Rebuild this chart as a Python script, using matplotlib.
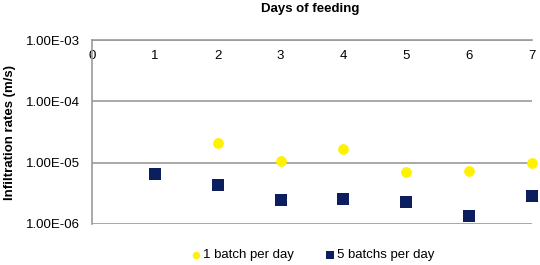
import matplotlib
matplotlib.use("Agg")
import matplotlib.pyplot as plt
from matplotlib.ticker import FixedLocator, NullLocator

plt.rcParams["font.family"] = ["Liberation Sans", "DejaVu Sans"]

# ── Data ─────────────────────────────────────────────────────────────────────
days = [1, 2, 3, 4, 5, 6, 7]
one_batch = [None, 2.1e-5, 1.06e-5, 1.65e-5, 6.95e-6, 7.3e-6, 1.0e-5]
five_batch = [6.45e-6, 4.4e-6, 2.45e-6, 2.6e-6, 2.3e-6, 1.33e-6, 2.85e-6]
x_ticks = [0, 1, 2, 3, 4, 5, 6, 7]
y_ticks = [1e-6, 1e-5, 1e-4, 1e-3]
y_labels = ["1.00E-06", "1.00E-05", "1.00E-04", "1.00E-03"]

YELLOW = "#FFF200"
NAVY = "#0B1F5E"
GRID = "#9a9a9a"
FS = 9.5

fig = plt.figure(figsize=(5.4, 2.65), dpi=100)
ax = fig.add_axes([92 / 540, 1 - 224 / 265, 440 / 540, 184 / 265])

d1 = [d for d, v in zip(days, one_batch) if v is not None]
v1 = [v for v in one_batch if v is not None]
ax.scatter(d1, v1, marker="o", s=60, color=YELLOW, zorder=3, label="1 batch per day",
           clip_on=False, linewidths=0)
ax.scatter(days, five_batch, marker="s", s=75, color=NAVY, zorder=3, label="5 batchs per day",
           clip_on=False, linewidths=0)

ax.set_yscale("log")
ax.set_ylim(1e-6, 1e-3)
ax.set_xlim(0, 7)
ax.yaxis.set_major_locator(FixedLocator(y_ticks))
ax.yaxis.set_minor_locator(NullLocator())
ax.set_yticklabels(y_labels)
ax.set_xticks(x_ticks)

ax.grid(axis="y", color=GRID, linewidth=1.2, zorder=0)
for s in ["right", "bottom"]:
    ax.spines[s].set_visible(False)
for s in ["top", "left"]:
    ax.spines[s].set_color(GRID)
    ax.spines[s].set_linewidth(1.2)

ax.xaxis.tick_top()
ax.tick_params(axis="x", length=0, pad=-16, labelsize=FS, colors="black")
ax.tick_params(axis="y", length=0, pad=9, labelsize=FS)

fig.text(310 / 540, 1 - 9 / 265, "Days of feeding", ha="center", va="center",
         fontsize=FS, fontweight="bold")
ax.set_ylabel("Infiltration rates (m/s)", fontsize=FS, fontweight="bold", labelpad=7)

ax.legend(loc="center", bbox_to_anchor=(312 / 540, 1 - 255 / 265),
          bbox_transform=fig.transFigure, ncol=2, frameon=False, fontsize=FS,
          handletextpad=0.05, columnspacing=2.2, markerscale=0.7, handlelength=1.0)

fig.savefig("out.png", dpi=100)
